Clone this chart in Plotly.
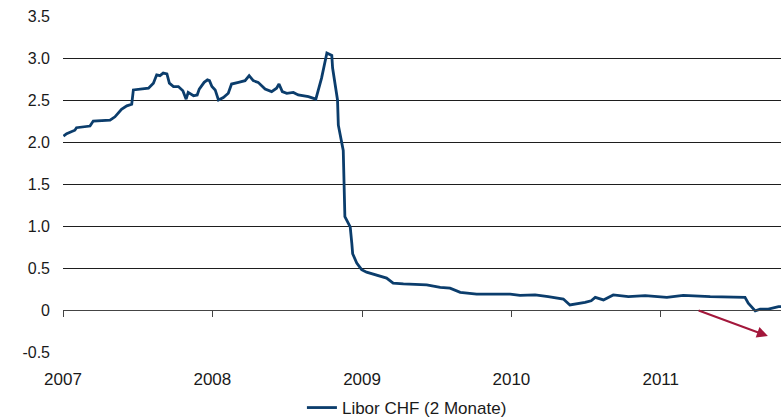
import plotly.graph_objects as go

dates = [
    "2007-01-02", "2007-01-10", "2007-01-30", "2007-02-03", "2007-03-08", "2007-03-16",
    "2007-04-26", "2007-05-08", "2007-05-24", "2007-06-06", "2007-06-18", "2007-06-22",
    "2007-07-29", "2007-08-10", "2007-08-18", "2007-08-26", "2007-09-03", "2007-09-12",
    "2007-09-18", "2007-09-28", "2007-10-10", "2007-10-21", "2007-10-29", "2007-11-03",
    "2007-11-16", "2007-11-25", "2007-11-30", "2007-12-12", "2007-12-20", "2007-12-25",
    "2007-12-31", "2008-01-08", "2008-01-16", "2008-01-28", "2008-02-09", "2008-02-17",
    "2008-03-05", "2008-03-21", "2008-03-31", "2008-04-10", "2008-04-22", "2008-05-09",
    "2008-05-25", "2008-06-06", "2008-06-12", "2008-06-20", "2008-07-01", "2008-07-17",
    "2008-07-29", "2008-08-23", "2008-09-10", "2008-09-16", "2008-09-24", "2008-10-07",
    "2008-10-19", "2008-10-21", "2008-10-25", "2008-10-29", "2008-11-02", "2008-11-04",
    "2008-11-12", "2008-11-16", "2008-11-20", "2008-12-03", "2008-12-07", "2008-12-09",
    "2008-12-19", "2008-12-31", "2009-01-12", "2009-02-02", "2009-02-18", "2009-03-02",
    "2009-03-18", "2009-04-12", "2009-06-08", "2009-07-11", "2009-08-04", "2009-08-29",
    "2009-10-08", "2009-11-18", "2009-12-29", "2010-01-22", "2010-02-28", "2010-04-01",
    "2010-05-08", "2010-05-24", "2010-06-10", "2010-06-30", "2010-07-15", "2010-07-25",
    "2010-08-14", "2010-09-07", "2010-10-14", "2010-11-24", "2011-01-16", "2011-02-25",
    "2011-05-02", "2011-07-26", "2011-08-03", "2011-08-20", "2011-09-01", "2011-09-21",
    "2011-10-16", "2011-10-22",
]
libor_chf_2m = [
    2.07, 2.10, 2.14, 2.17, 2.19, 2.25,
    2.26, 2.30, 2.39, 2.43, 2.45, 2.62,
    2.64, 2.70, 2.80, 2.79, 2.82, 2.81,
    2.70, 2.66, 2.66, 2.61, 2.51, 2.59,
    2.55, 2.56, 2.63, 2.71, 2.74, 2.73,
    2.66, 2.62, 2.50, 2.53, 2.58, 2.69,
    2.71, 2.73, 2.79, 2.73, 2.71, 2.63,
    2.60, 2.64, 2.69, 2.60, 2.58, 2.59,
    2.56, 2.54, 2.51, 2.63, 2.76, 3.06,
    3.03, 2.88, 2.75, 2.63, 2.50, 2.20,
    2.02, 1.90, 1.11, 0.99, 0.79, 0.67,
    0.56, 0.48, 0.45, 0.42, 0.40, 0.38,
    0.32, 0.31, 0.30, 0.27, 0.26, 0.21,
    0.19, 0.19, 0.19, 0.175, 0.18, 0.16,
    0.13, 0.06, 0.07, 0.09, 0.11, 0.15,
    0.12, 0.18, 0.16, 0.17, 0.15, 0.175,
    0.16, 0.15, 0.08, -0.01, 0.01, 0.01,
    0.04, 0.04,
]
series_name = "Libor CHF (2 Monate)"
x_ticks = ["2007-01-01", "2008-01-01", "2009-01-01", "2010-01-01", "2011-01-01"]
x_tick_labels = ["2007", "2008", "2009", "2010", "2011"]
y_ticks = [-0.5, 0, 0.5, 1.0, 1.5, 2.0, 2.5, 3.0, 3.5]
y_tick_labels = ["-0.5", "0", "0.5", "1.0", "1.5", "2.0", "2.5", "3.0", "3.5"]
x_range = ["2007-01-01", "2011-10-22"]
y_range = [-0.5, 3.5]
arrow_start = ("2011-03-31", 0.0)
arrow_end = ("2011-09-20", -0.31)

line_color = "#0b3d6c"
grid_color = "#1e1e1e"
axis_color = "#444444"
text_color = "#1a1a1a"
font_family = "Liberation Sans, Arial, Helvetica, sans-serif"

fig = go.Figure()
fig.add_trace(go.Scatter(
    x=dates, y=libor_chf_2m, mode="lines", name=series_name,
    line=dict(color=line_color, width=2.8), hoverinfo="x+y",
))
# invisible trace carrying the zero-line axis with ticks
fig.add_trace(go.Scatter(
    x=x_range, y=[0, 0], xaxis="x2", mode="lines", showlegend=False,
    line=dict(color="rgba(0,0,0,0)", width=0), hoverinfo="skip",
))

fig.add_annotation(
    x=arrow_end[0], y=arrow_end[1], ax=arrow_start[0], ay=arrow_start[1],
    xref="x", yref="y", axref="x", ayref="y", text="",
    showarrow=True, arrowhead=2, arrowsize=1.1, arrowwidth=2, arrowcolor="#a3173b",
)

fig.update_layout(
    width=781, height=418,
    margin=dict(l=63, r=0, t=16, b=66, autoexpand=False),
    paper_bgcolor="white", plot_bgcolor="white",
    font=dict(family=font_family, size=16, color=text_color),
    showlegend=True,
    legend=dict(
        orientation="h", x=0.479, xanchor="center", y=-0.1667, yanchor="middle",
        font=dict(family=font_family, size=17, color=text_color),
        itemwidth=30, bgcolor="rgba(0,0,0,0)",
    ),
    xaxis=dict(
        type="date", range=x_range, tickvals=x_ticks, ticktext=x_tick_labels,
        showgrid=False, zeroline=False, showline=False, ticks="",
        ticklabelstandoff=15, automargin=False,
        tickfont=dict(family=font_family, size=17),
        fixedrange=True,
    ),
    xaxis2=dict(
        type="date", range=x_range, overlaying="x", anchor="free", position=0.125,
        side="bottom", tickvals=x_ticks, showticklabels=False, automargin=False,
        showgrid=False, zeroline=False, showline=True, linecolor=axis_color, linewidth=1,
        ticks="outside", ticklen=6, tickcolor=axis_color, tickwidth=1,
    ),
    yaxis=dict(
        range=y_range, tickvals=y_ticks, ticktext=y_tick_labels,
        showgrid=True, gridcolor=grid_color, gridwidth=1, automargin=False,
        zeroline=False, showline=False, ticks="", ticklabelstandoff=12,
        tickfont=dict(family=font_family, size=16), domain=[0, 1],
    ),
)

fig.write_html(
    "out.html",
    config={"displayModeBar": False},
    post_script="document.body.style.margin='0';document.body.style.overflow='hidden';",
)
